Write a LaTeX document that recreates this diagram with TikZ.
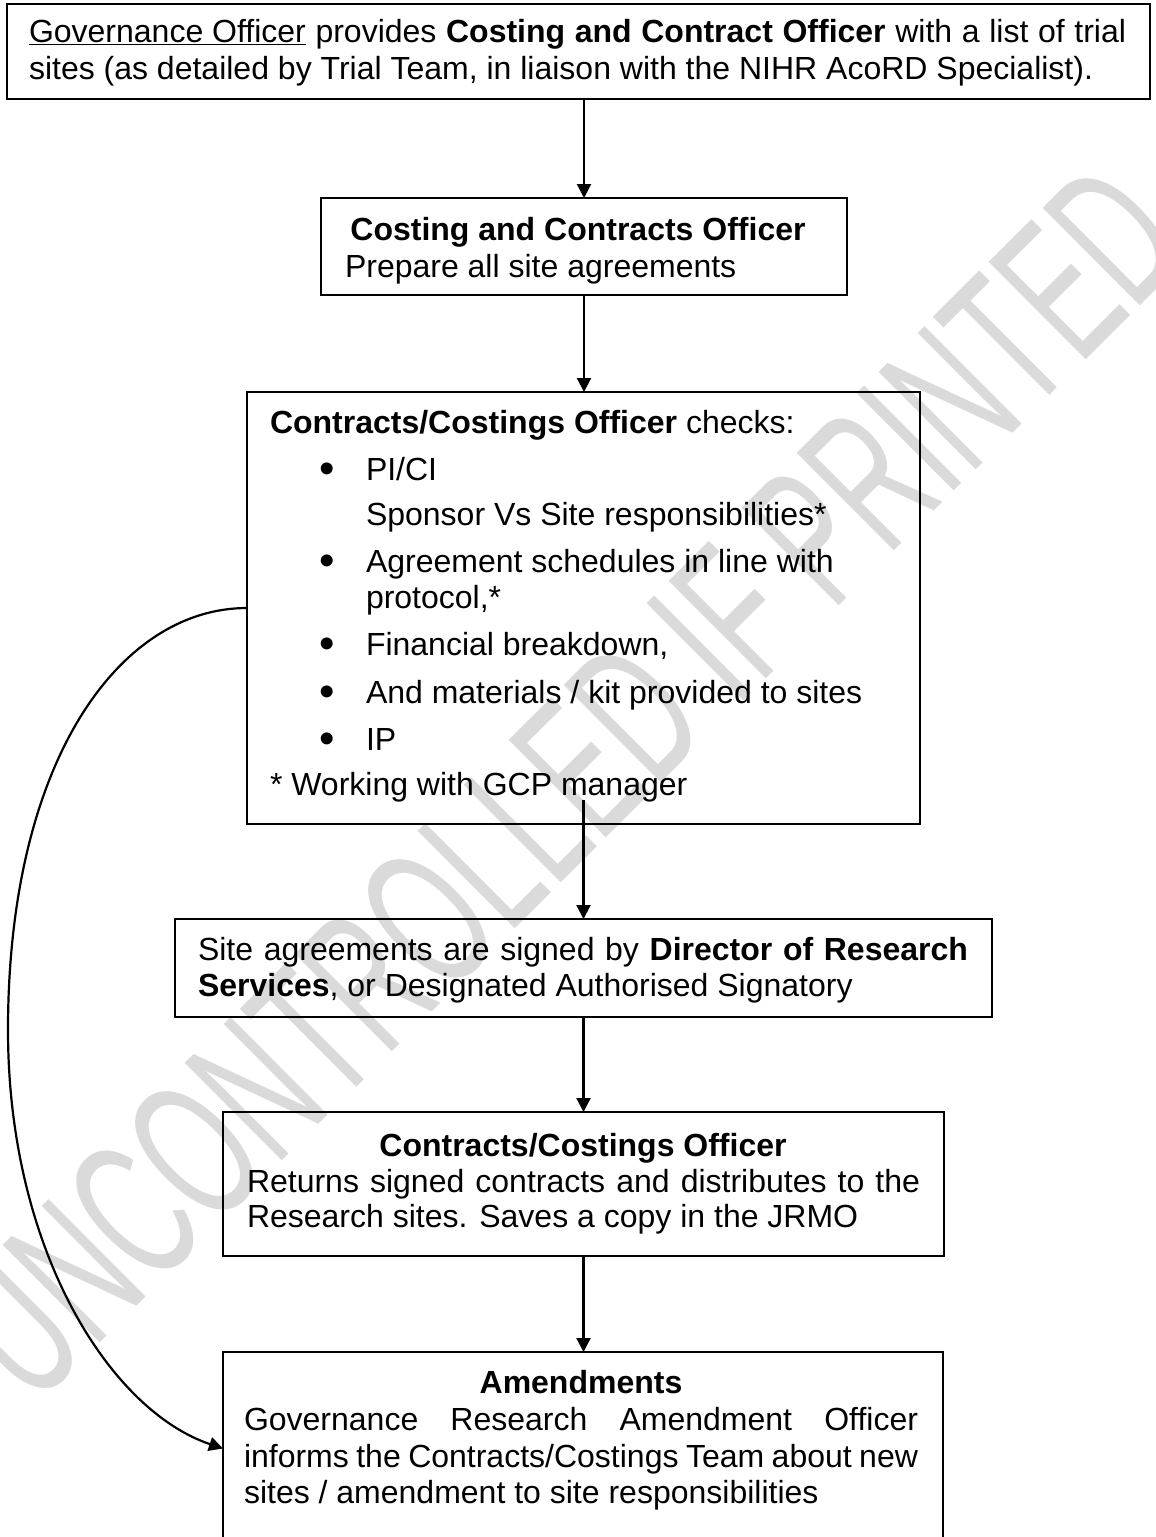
\documentclass[tikz,border=0pt]{standalone}
\usepackage{fontspec}
\setmainfont{Liberation Sans}
\usetikzlibrary{arrows.meta}
\definecolor{wm}{RGB}{218,218,218}
\newcommand\fs{\fontsize{32}{37}\selectfont}
\newcommand\jl[2]{\makebox[#1][s]{#2}}
\newcommand\bul{\raisebox{-3pt}{\fontsize{44}{44}\selectfont\textbullet}}
\tikzset{
  box/.style={draw, line width=2.6pt, inner sep=0pt, outer sep=0pt},
  conn/.style={line width=2.2pt, -{Triangle[length=14pt,width=14pt]}},
  txt/.style={anchor=base west, inner sep=0pt, outer sep=0pt, font=\fs},
  ctxt/.style={anchor=base, inner sep=0pt, outer sep=0pt, font=\fs},
}
\begin{document}
\begin{tikzpicture}[x=1pt,y=-1pt]
\clip (0,0) rectangle (1156,1537);
\fill[white] (0,0) rectangle (1156,1537);
% watermark
\node[rotate=44.9, xscale=0.58, text=wm, inner sep=0pt, font=\fontsize{200}{200}\selectfont] (wmk) at (565,782) {UNCONTROLLED IF PRINTED};
% boxes
\node[box, minimum width=1143pt, minimum height=95pt] (b1) at (578.5,51.5) {};
\node[box, minimum width=526pt, minimum height=97pt] (b2) at (584,246.5) {};
\node[box, minimum width=673pt, minimum height=432pt] (b3) at (583.5,608) {};
\node[box, minimum width=817pt, minimum height=98pt] (b4) at (583.5,968) {};
\node[box, minimum width=721pt, minimum height=144pt] (b5) at (583.5,1184) {};
\node[box, minimum width=720pt, minimum height=193pt] (b6) at (583,1448.5) {};
% box 1 text
\node[txt] (t1a) at (29,42) {\jl{1097pt}{\underline{Governance Officer} provides \textbf{Costing and Contract Officer} with a list of trial}};
\node[txt] (t1b) at (29,79) {sites (as detailed by Trial Team, in liaison with the NIHR AcoRD Specialist).};
% box 2 text
\node[ctxt] (t2a) at (578,240) {\textbf{Costing and Contracts Officer}};
\node[txt] (t2b) at (345,277) {Prepare all site agreements};
% box 3 text
\node[txt] (t3a) at (270,433) {\textbf{Contracts/Costings Officer} checks:};
\node[txt] (u1) at (319,480) {\bul};
\node[txt] (t3b) at (366,480) {PI/CI};
\node[txt] (t3c) at (366,525) {Sponsor Vs Site responsibilities*};
\node[txt] (u2) at (319,572) {\bul};
\node[txt] (t3d) at (366,572) {Agreement schedules in line with};
\node[txt] (t3e) at (366,608) {protocol,*};
\node[txt] (u3) at (319,655) {\bul};
\node[txt] (t3f) at (366,655) {Financial breakdown,};
\node[txt] (u4) at (319,703) {\bul};
\node[txt] (t3g) at (366,703) {And materials / kit provided to sites};
\node[txt] (u5) at (319,750) {\bul};
\node[txt] (t3h) at (366,750) {IP};
\node[txt] (t3i) at (270,795) {* Working with GCP manager};
% box 4 text
\node[txt] (t4a) at (198,960) {\jl{770pt}{Site agreements are signed by \textbf{Director of Research}}};
\node[txt] (t4b) at (198,996) {\textbf{Services}, or Designated Authorised Signatory};
% box 5 text
\node[ctxt] (t5a) at (583,1156) {\textbf{Contracts/Costings Officer}};
\node[txt] (t5b) at (247,1192) {\jl{673pt}{Returns signed contracts and distributes to the}};
\node[txt] (t5c) at (247,1227) {Research sites. Saves a copy in the JRMO};
% box 6 text
\node[ctxt] (t6a) at (581,1393) {\textbf{Amendments}};
\node[txt] (t6b) at (244,1430) {\jl{674pt}{Governance Research Amendment Officer}};
\node[txt] (t6c) at (244,1467) {\jl{674pt}{informs the Contracts/Costings Team about new}};
\node[txt] (t6d) at (244,1503) {sites / amendment to site responsibilities};
% connectors
\draw[conn] (b2.north |- b1.south) -- (b2.north);
\draw[conn] (b2.south) -- (b2.south |- b3.north);
\draw[conn] ([yshift=24pt]b3.south) -- (b4.north);
\draw[conn] (b4.south) -- (b5.north);
\draw[conn] (b5.south) -- (b5.south |- b6.north);
\coordinate (cm) at (8,1030);
\draw[conn] (b3.west) .. controls +(-127,0) and +(0,-270) .. (cm) .. controls +(0,220) and +(-113,-38) .. (b6.west);
\end{tikzpicture}
\end{document}
